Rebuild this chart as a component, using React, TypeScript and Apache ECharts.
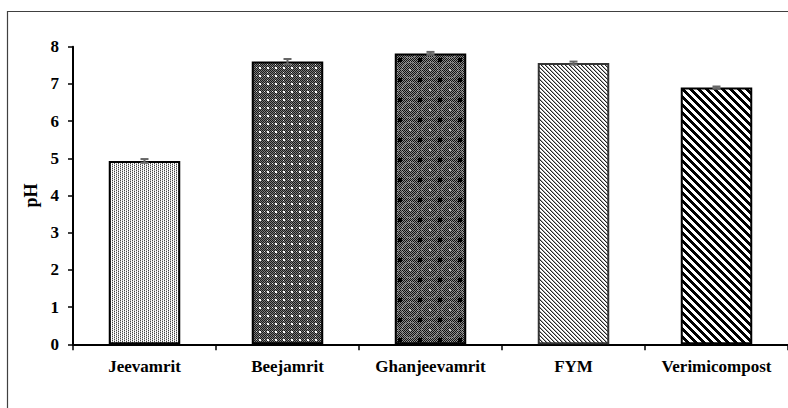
import React, { useEffect, useRef } from "react";
import * as echarts from "echarts";

const categories = ["Jeevamrit", "Beejamrit", "Ghanjeevamrit", "FYM", "Verimicompost"];
const phValues = [4.93, 7.6, 7.82, 7.56, 6.9];
const phErrors = [0.05, 0.07, 0.04, 0.04, 0.03];
const yTicks = [0, 1, 2, 3, 4, 5, 6, 7, 8];

function makeTile(size: number, fn: (ctx: CanvasRenderingContext2D, s: number) => void) {
  const c = document.createElement("canvas");
  c.width = size;
  c.height = size;
  const ctx = c.getContext("2d")!;
  fn(ctx, size);
  return c;
}

function px(ctx: CanvasRenderingContext2D, x: number, y: number, col: string) {
  ctx.fillStyle = col;
  ctx.fillRect(x, y, 1, 1);
}

function buildPatterns() {
  const p1 = makeTile(4, (ctx, s) => {
    ctx.fillStyle = "#fff";
    ctx.fillRect(0, 0, s, s);
    for (let y = 0; y < s; y++)
      for (let x = 0; x < s; x++) {
        if ((x + 2 * y) % 4 === 0) px(ctx, x, y, "#444");
        else if ((x + 2 * y) % 4 === 2) px(ctx, x, y, "#bbb");
      }
  });
  const p2 = makeTile(8, (ctx, s) => {
    for (let y = 0; y < s; y++)
      for (let x = 0; x < s; x++) px(ctx, x, y, (x + y) % 2 === 0 ? "#1a1a1a" : "#7a7a7a");
    px(ctx, 3, 3, "#fff");
    px(ctx, 4, 3, "#fff");
    px(ctx, 3, 4, "#fff");
    px(ctx, 4, 4, "#fff");
    px(ctx, 0, 3, "#ddd");
    px(ctx, 3, 0, "#ddd");
  });
  const p3 = makeTile(20, (ctx, s) => {
    for (let y = 0; y < s; y++)
      for (let x = 0; x < s; x++) px(ctx, x, y, (x + y) % 2 === 0 ? "#111" : "#8a8a8a");
    ctx.strokeStyle = "#d8d8d8";
    ctx.lineWidth = 1;
    ctx.setLineDash([1, 1.5]);
    ctx.beginPath();
    ctx.arc(10, 10, 8, 0, Math.PI * 2);
    ctx.stroke();
    ctx.setLineDash([]);
    ctx.fillStyle = "#000";
    ctx.fillRect(0, 0, 2, 2);
    ctx.fillRect(18, 18, 2, 2);
    ctx.fillRect(0, 18, 2, 2);
    ctx.fillRect(18, 0, 2, 2);
    ctx.fillStyle = "#bbb";
    ctx.fillRect(9, 9, 2, 2);
  });
  const p4 = makeTile(4, (ctx, s) => {
    ctx.fillStyle = "#fff";
    ctx.fillRect(0, 0, s, s);
    for (let y = 0; y < s; y++)
      for (let x = 0; x < s; x++) {
        const d = (((x - y) % 4) + 4) % 4;
        if (d === 0) px(ctx, x, y, "#222");
        else if (d === 1) px(ctx, x, y, "#aaa");
      }
  });
  const p5 = makeTile(8, (ctx, s) => {
    ctx.fillStyle = "#fff";
    ctx.fillRect(0, 0, s, s);
    for (let y = 0; y < s; y++)
      for (let x = 0; x < s; x++) {
        const d = (((x - y) % 8) + 8) % 8;
        if (d < 4) px(ctx, x, y, "#000");
      }
  });
  return [p1, p2, p3, p4, p5];
}

export default function App() {
  const ref = useRef<HTMLDivElement>(null);
  useEffect(() => {
    if (!ref.current) return;
    const chart = echarts.init(ref.current, null, { renderer: "svg" });
    const pats = buildPatterns();
    const font = "'Liberation Serif', 'Times New Roman', serif";
    chart.setOption({
      animation: false,
      backgroundColor: "#fff",
      graphic: [
        {
          type: "rect",
          shape: { x: 7.5, y: 11.5, width: 900, height: 600 },
          style: { fill: "none", stroke: "#404040", lineWidth: 1.2 },
          silent: true,
        },
      ],
      grid: { left: 73, top: 46.7, width: 717, bottom: 63.7 },
      xAxis: {
        type: "category",
        data: categories,
        axisLine: { lineStyle: { color: "#000", width: 2 } },
        axisTick: { show: true, interval: 0, length: 6, lineStyle: { color: "#000", width: 1.5 } },
        axisLabel: {
          color: "#000",
          fontFamily: font,
          fontWeight: "bold",
          fontSize: 17,
          margin: 14,
          interval: 0,
          hideOverlap: false,
        },
      },
      yAxis: {
        type: "value",
        min: 0,
        max: 8,
        interval: 1,
        name: "pH",
        nameLocation: "middle",
        nameGap: 31,
        nameTextStyle: { color: "#000", fontFamily: font, fontWeight: "bold", fontSize: 18 },
        splitLine: { show: false },
        axisLine: { show: true, lineStyle: { color: "#000", width: 2 } },
        axisTick: { show: true, length: 5, lineStyle: { color: "#000", width: 1.5 } },
        axisLabel: {
          color: "#000",
          fontFamily: font,
          fontWeight: "bold",
          fontSize: 17,
          margin: 14,
          formatter: (v: number) => (yTicks.includes(v) ? String(v) : ""),
        },
      },
      series: [
        {
          type: "bar",
          barWidth: "50%",
          data: phValues.map((v, i) => ({
            value: v,
            itemStyle: {
              color: { image: pats[i], repeat: "repeat" },
              borderColor: i === 3 ? "#333" : "#000",
              borderWidth: 2,
            },
          })),
        },
        {
          type: "custom",
          z: 5,
          data: phValues.map((v, i) => [i, v + phErrors[i], v - phErrors[i]]),
          renderItem: (params: any, api: any) => {
            const hi = api.coord([api.value(0), api.value(1)]);
            const lo = api.coord([api.value(0), api.value(2)]);
            const hw = 4;
            const st = { stroke: "#666", lineWidth: 2 };
            return {
              type: "group",
              children: [
                { type: "line", shape: { x1: hi[0], y1: hi[1], x2: lo[0], y2: lo[1] }, style: st },
                { type: "line", shape: { x1: hi[0] - hw, y1: hi[1], x2: hi[0] + hw, y2: hi[1] }, style: st },
                { type: "line", shape: { x1: lo[0] - hw, y1: lo[1], x2: lo[0] + hw, y2: lo[1] }, style: st },
              ],
            };
          },
        },
      ],
    });
    return () => chart.dispose();
  }, []);
  return (
    <div
      ref={ref}
      style={{ position: "fixed", left: 0, top: 0, width: 788, height: 408, background: "#fff" }}
    />
  );
}
